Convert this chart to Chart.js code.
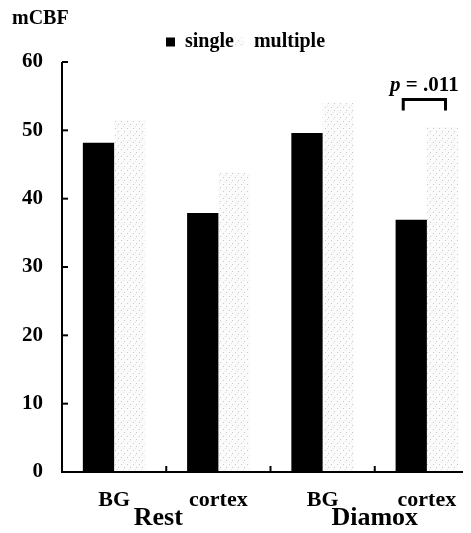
<!DOCTYPE html>
<html>
<head>
<meta charset="utf-8">
<script src="https://cdn.jsdelivr.net/npm/chart.js@4"></script>
<style>
  html, body { margin: 0; padding: 0; background: #fff; overflow: hidden; }
  #wrap { width: 471px; height: 533px; overflow: hidden; }
</style>
</head>
<body>
<!-- canvas is a few px wider than the window: the last category runs past the figure's edge -->
<div id="wrap"><canvas id="cbfChart" width="479" height="533"></canvas></div>
<script>
// values
const regions = ['BG', 'cortex', 'BG', 'cortex'];
const groups = ['Rest', 'Diamox'];
const singleVals = [48.2, 37.9, 49.6, 36.9];
const multipleVals = [51.5, 43.8, 54, 50.5];
const pLabel = '= .011';

const SERIF = '"Liberation Serif", "DejaVu Serif", serif';

// faint stipple used for the "multiple" bars
function stipple() {
  const c = document.createElement('canvas');
  c.width = 6; c.height = 7;
  const g = c.getContext('2d');
  g.fillStyle = '#fbfbfb';
  g.fillRect(0, 0, 6, 7);
  g.fillStyle = '#c8c8c8';
  g.fillRect(1, 2, 1, 1);
  g.fillRect(4, 5, 1, 1);
  g.fillStyle = '#e2e2e2';
  g.fillRect(3, 0, 1, 1);
  return g.createPattern(c, 'repeat');
}
const multiFill = stipple();

const extras = {
  id: 'extras',
  afterDraw(chart) {
    const { ctx, scales: { x, y } } = chart;
    ctx.save();
    ctx.strokeStyle = '#000';
    ctx.lineWidth = 2;
    // axis lines on top of the bars; x line stops short of the last category edge
    ctx.beginPath();
    ctx.moveTo(x.left, y.top);
    ctx.lineTo(x.left, y.bottom);
    ctx.lineTo(x.right - 16, y.bottom);
    ctx.stroke();
    // inward ticks on y
    y.ticks.forEach(t => {
      const py = y.getPixelForValue(t.value);
      ctx.beginPath(); ctx.moveTo(x.left, py); ctx.lineTo(x.left + 6, py); ctx.stroke();
    });
    // inward ticks on x between categories
    for (let i = 0; i < regions.length - 1; i++) {
      const px = (x.getPixelForValue(i) + x.getPixelForValue(i + 1)) / 2;
      ctx.beginPath(); ctx.moveTo(px, y.bottom); ctx.lineTo(px, y.bottom - 6); ctx.stroke();
    }
    // group labels under each pair of categories
    const nudge = [-8, 0];
    ctx.fillStyle = '#000';
    ctx.font = 'bold 26px ' + SERIF;
    ctx.textAlign = 'center';
    ctx.textBaseline = 'alphabetic';
    groups.forEach((g, k) => {
      const px = (x.getPixelForValue(2 * k) + x.getPixelForValue(2 * k + 1)) / 2 + nudge[k];
      ctx.fillText(g, px, 525);
    });
    // significance bracket on Diamox cortex
    const b0 = chart.getDatasetMeta(0).data[3];
    const b1 = chart.getDatasetMeta(1).data[3];
    const x0 = b0.x - 8, x1 = b1.x + 3;
    const top = y.getPixelForValue(Math.max(multipleVals[3], singleVals[3]) + 4.0);
    ctx.lineWidth = 3;
    ctx.beginPath();
    ctx.moveTo(x0, top + 11); ctx.lineTo(x0, top); ctx.lineTo(x1, top); ctx.lineTo(x1, top + 11);
    ctx.stroke();
    // p = .011
    ctx.textAlign = 'left';
    ctx.font = 'bold italic 21px ' + SERIF;
    const pw = ctx.measureText('p ').width;
    ctx.font = 'bold 21px ' + SERIF;
    const rw = ctx.measureText(pLabel).width;
    const sx = (x0 + x1) / 2 - (pw + rw) / 2;
    ctx.font = 'bold italic 21px ' + SERIF;
    ctx.fillText('p', sx, top - 9);
    ctx.font = 'bold 21px ' + SERIF;
    ctx.fillText(pLabel, sx + pw, top - 9);
    ctx.restore();
  }
};

new Chart(document.getElementById('cbfChart'), {
  type: 'bar',
  data: {
    labels: regions,
    datasets: [
      { label: 'single', data: singleVals, backgroundColor: '#000', borderWidth: 0 },
      { label: 'multiple', data: multipleVals, backgroundColor: multiFill, borderWidth: 0 }
    ]
  },
  options: {
    responsive: false,
    animation: false,
    layout: { padding: { left: 12, right: 0, top: 0, bottom: 0 } },
    datasets: { bar: { categoryPercentage: 0.6, barPercentage: 1 } },
    plugins: {
      title: {
        display: true, text: 'mCBF', align: 'start', color: '#000',
        font: { family: SERIF, size: 20, weight: 'bold' },
        padding: { top: 7, bottom: 0 }
      },
      legend: {
        display: true,
        labels: {
          color: '#000', boxWidth: 9, boxHeight: 9,
          font: { family: SERIF, size: 20, weight: 'bold' },
          padding: 1
        }
      },
      tooltip: { enabled: false }
    },
    scales: {
      x: {
        grid: { display: false, drawTicks: false },
        border: { display: false },
        ticks: { color: '#000', padding: 15, font: { family: SERIF, size: 22, weight: 'bold' } },
        afterFit(s) { s.height = 61; }
      },
      y: {
        min: 0, max: 60,
        grid: { display: false, drawTicks: false },
        border: { display: false },
        ticks: { stepSize: 10, color: '#000', padding: 19, font: { family: SERIF, size: 21, weight: 'bold' } },
        afterFit(s) { s.width = 50; }
      }
    }
  },
  plugins: [extras]
});
</script>
</body>
</html>
